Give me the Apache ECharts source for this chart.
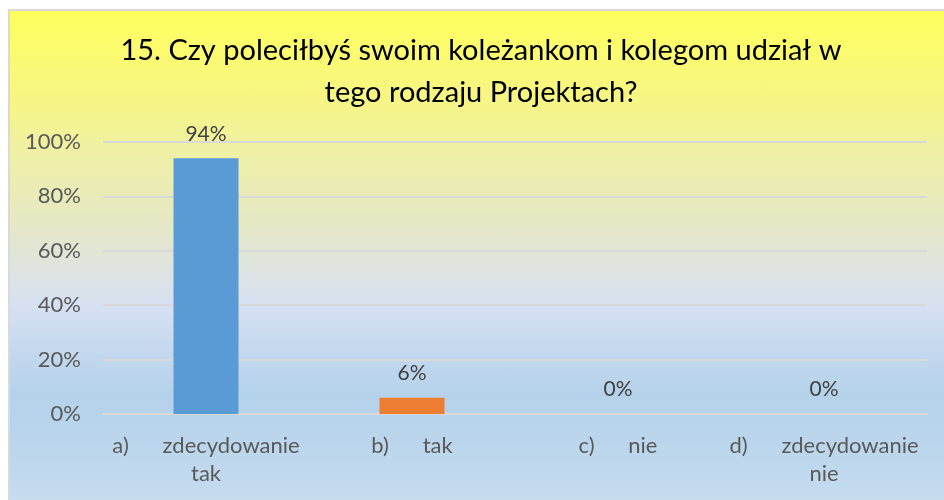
<!DOCTYPE html>
<html>
<head>
<meta charset="utf-8">
<script src="https://cdn.jsdelivr.net/npm/echarts@6/dist/echarts.min.js"></script>
<style>
  html, body { margin: 0; padding: 0; background: #ffffff; overflow: hidden; width: 944px; height: 500px; }
  #frame {
    position: absolute; left: 8px; top: 9px; width: 950px; height: 500px;
    border: 2px solid #D9D9D9;
    background: linear-gradient(to bottom,
      #FFFF5E 0%, #F6F585 18%, #EFF0A4 28%, #E6E8C4 42%,
      #DDE3E4 53%, #D6E0F2 59%, #C4D8EE 68%, #B4D2EA 77%, #BCD6EC 88%, #C8DDF0 100%);
  }
  #chart { position: absolute; left: 0; top: 0; width: 944px; height: 500px; }
</style>
</head>
<body>
<div id="frame"></div>
<div id="chart"></div>
<script>
// Survey question 15: answer categories and their shares
const titleText = '15. Czy poleciłbyś swoim koleżankom i kolegom udział w\ntego rodzaju Projektach?';
const categories = ['a)\tzdecydowanie\ntak', 'b)\ttak', 'c)\tnie', 'd)\tzdecydowanie\nnie'];
const shares = [0.94, 0.06, 0, 0];
const barColors = ['#5B9BD5', '#ED7D31', '#A5A5A5', '#FFC000'];
const yTicks = [0, 0.2, 0.4, 0.6, 0.8, 1];

const FONT = 'Lato, "Open Sans", sans-serif';
const pct = v => Math.round(v * 100) + '%';

const chart = echarts.init(document.getElementById('chart'), null, { renderer: 'canvas' });
chart.setOption({
  backgroundColor: 'transparent',
  animation: false,
  title: {
    text: titleText,
    left: 476,
    textAlign: 'center',
    top: 25,
    textStyle: { color: '#000000', fontFamily: FONT, fontSize: 29, fontWeight: 'normal', lineHeight: 42 }
  },
  grid: { left: 103, right: 17, top: 142, bottom: 86, containLabel: false },
  xAxis: {
    type: 'category',
    data: categories,
    axisLine: { show: true, lineStyle: { color: '#D9D9D9', width: 2 } },
    axisTick: { show: false },
    axisLabel: {
      color: '#595959', fontFamily: FONT, fontSize: 22, lineHeight: 28, margin: 18,
      interval: 0,
      formatter: s => s.replace('\t', '      ')
    }
  },
  yAxis: {
    type: 'value',
    min: yTicks[0],
    max: yTicks[yTicks.length - 1],
    interval: yTicks[1] - yTicks[0],
    axisLine: { show: false },
    axisTick: { show: false },
    splitLine: { lineStyle: { color: '#D9D9D9', width: 2 } },
    axisLabel: { color: '#595959', fontFamily: FONT, fontSize: 22, margin: 22, formatter: pct }
  },
  series: [{
    type: 'bar',
    data: shares.map((v, i) => ({ value: v, itemStyle: { color: barColors[i] } })),
    barWidth: 65,
    label: {
      show: true, position: 'top', distance: 14,
      color: '#404040', fontFamily: FONT, fontSize: 21,
      formatter: p => pct(p.value)
    }
  }]
});
</script>
</body>
</html>
